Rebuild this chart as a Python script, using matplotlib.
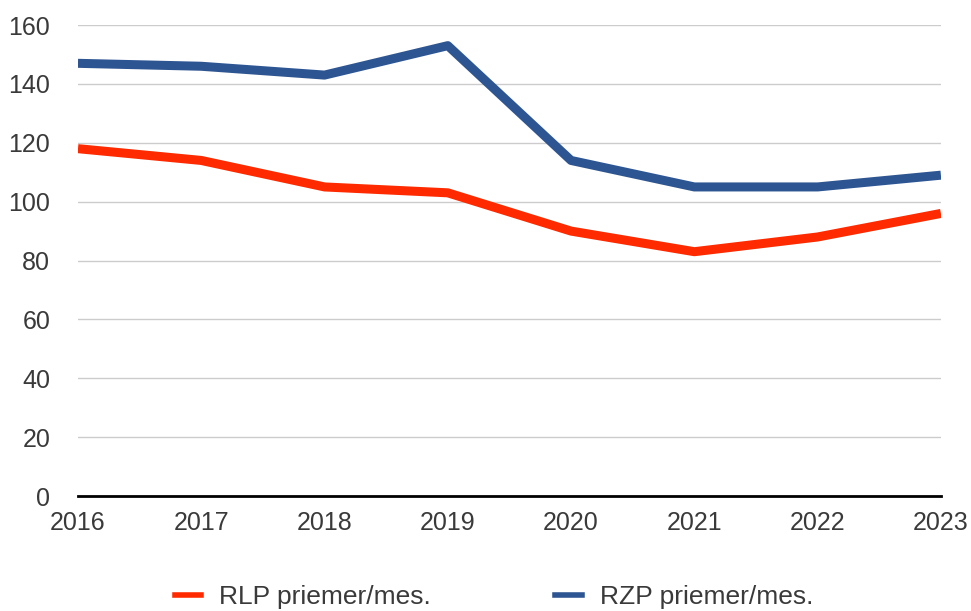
import matplotlib.pyplot as plt
from matplotlib.lines import Line2D

plt.rcParams['font.family'] = ['Liberation Sans', 'DejaVu Sans']

years = [2016, 2017, 2018, 2019, 2020, 2021, 2022, 2023]
rlp = [118, 114, 105, 103, 90, 83, 88, 96]
rzp = [147, 146, 143, 153, 114, 105, 105, 109]
labels = ['RLP priemer/mes.', 'RZP priemer/mes.']
colors = ['#ff2a00', '#2d5592']

fig = plt.figure(figsize=(9.71, 6.11), dpi=100)
ax = fig.add_axes([0.0803, 0.1882, 0.8887, 0.7708])

ax.plot(years, rlp, color=colors[0], lw=6.5, solid_capstyle='butt')
ax.plot(years, rzp, color=colors[1], lw=6.5, solid_capstyle='butt')

ax.set_xlim(2016, 2023)
ax.set_ylim(0, 160)
ax.set_yticks(range(0, 161, 20))
ax.set_xticks(years)
ax.grid(axis='y', color='#cccccc', lw=1)
ax.set_axisbelow(True)
for s in ['top', 'right', 'left']:
    ax.spines[s].set_visible(False)
ax.spines['bottom'].set_color('black')
ax.spines['bottom'].set_linewidth(2)
ax.spines['bottom'].set_zorder(5)
ax.tick_params(length=0, labelsize=18, labelcolor='#3a3a3a')
ax.tick_params(axis='x', pad=11)
ax.tick_params(axis='y', pad=20)

handles = [Line2D([], [], color=c, lw=4) for c in colors]
fig.legend(handles, labels, loc='center', bbox_to_anchor=(494 / 971, 1 - 597 / 611), ncol=2,
           frameon=False, fontsize=19, handlelength=1.0, handletextpad=0.7,
           columnspacing=4.7, labelcolor='#3a3a3a')

fig.savefig('out.png', dpi=100)
